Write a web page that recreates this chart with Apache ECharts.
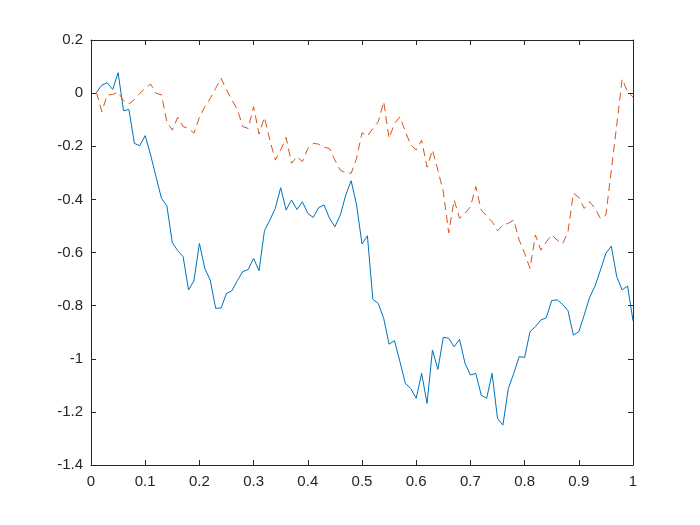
<!DOCTYPE html>
<html>
<head>
<meta charset="utf-8">
<script src="https://cdn.jsdelivr.net/npm/echarts@6/dist/echarts.min.js"></script>
<style>
html,body{margin:0;padding:0;background:#fff;}
#chart{width:700px;height:525px;}
</style>
</head>
<body>
<div id="chart"></div>
<script>
// sample positions: 0.01 .. 1.00 in steps of 0.01
var xStep = 0.01;
var blueValues = [
  0.003, 0.030, 0.039, 0.014, 0.077, -0.066, -0.062, -0.189, -0.198, -0.160,
  -0.233, -0.315, -0.396, -0.424, -0.563, -0.593, -0.616, -0.741, -0.706, -0.566,
  -0.660, -0.704, -0.810, -0.809, -0.754, -0.744, -0.706, -0.672, -0.664, -0.622,
  -0.669, -0.518, -0.478, -0.434, -0.356, -0.440, -0.402, -0.438, -0.409, -0.453,
  -0.468, -0.431, -0.421, -0.471, -0.503, -0.459, -0.384, -0.330, -0.421, -0.568,
  -0.537, -0.776, -0.792, -0.848, -0.945, -0.932, -1.011, -1.093, -1.112, -1.149,
  -1.055, -1.168, -0.967, -1.040, -0.919, -0.923, -0.955, -0.927, -1.017, -1.061,
  -1.055, -1.137, -1.149, -1.055, -1.225, -1.250, -1.112, -1.055, -0.992, -0.995,
  -0.898, -0.879, -0.854, -0.846, -0.781, -0.778, -0.795, -0.819, -0.911, -0.898,
  -0.835, -0.769, -0.726, -0.666, -0.603, -0.576, -0.691, -0.741, -0.726, -0.857
];
var orangeValues = [
  0.003, -0.070, -0.007, -0.005, 0.003, -0.028, -0.041, -0.024, -0.001, 0.018,
  0.034, -0.001, -0.006, -0.108, -0.139, -0.091, -0.126, -0.133, -0.151, -0.091,
  -0.051, -0.020, 0.018, 0.056, 0.012, -0.026, -0.061, -0.126, -0.133, -0.051,
  -0.154, -0.091, -0.177, -0.252, -0.214, -0.167, -0.264, -0.239, -0.258, -0.208,
  -0.189, -0.192, -0.204, -0.208, -0.252, -0.290, -0.300, -0.302, -0.245, -0.149,
  -0.162, -0.133, -0.108, -0.032, -0.170, -0.114, -0.089, -0.145, -0.195, -0.214,
  -0.177, -0.279, -0.214, -0.290, -0.371, -0.526, -0.402, -0.471, -0.453, -0.428,
  -0.352, -0.440, -0.463, -0.484, -0.518, -0.497, -0.490, -0.478, -0.553, -0.603,
  -0.660, -0.534, -0.591, -0.560, -0.534, -0.553, -0.568, -0.522, -0.377, -0.392,
  -0.434, -0.409, -0.434, -0.472, -0.459, -0.290, -0.120, 0.053, 0.005, -0.015
];
var xTickLabels = ['0','0.1','0.2','0.3','0.4','0.5','0.6','0.7','0.8','0.9','1'];
var yTickLabels = ['-1.4','-1.2','-1','-0.8','-0.6','-0.4','-0.2','0','0.2'];

function pairs(vals){
  var out = [];
  for (var i = 0; i < vals.length; i++) out.push([Math.round((i + 1) * xStep * 100) / 100, vals[i]]);
  return out;
}
function fmtX(v){ var i = Math.round(v * 10); return xTickLabels[i] !== undefined ? xTickLabels[i] : ''; }
function fmtY(v){ var i = Math.round((v + 1.4) / 0.2); return yTickLabels[i] !== undefined ? yTickLabels[i] : ''; }

var axisColor = '#262626';
var labelStyle = {color: axisColor, fontFamily: 'Liberation Sans, Arial, sans-serif', fontSize: 15};

var chart = echarts.init(document.getElementById('chart'), null, {renderer: 'canvas'});
chart.setOption({
  animation: false,
  backgroundColor: '#ffffff',
  grid: {left: 91, right: 67, top: 40, bottom: 60, containLabel: false},
  xAxis: [
    {type: 'value', min: 0, max: 1, interval: 0.1, position: 'bottom',
     axisLine: {onZero: false, lineStyle: {color: axisColor, width: 1}},
     axisTick: {inside: true, length: 5, lineStyle: {color: axisColor}},
     axisLabel: Object.assign({margin: 9, formatter: fmtX}, labelStyle),
     splitLine: {show: false}},
    {type: 'value', min: 0, max: 1, interval: 0.1, position: 'top',
     axisLine: {onZero: false, lineStyle: {color: axisColor, width: 1}},
     axisTick: {inside: true, length: 5, lineStyle: {color: axisColor}},
     axisLabel: {show: false}, splitLine: {show: false}}
  ],
  yAxis: [
    {type: 'value', min: -1.4, max: 0.2, interval: 0.2, position: 'left',
     axisLine: {show: true, onZero: false, lineStyle: {color: axisColor, width: 1}},
     axisTick: {show: true, inside: true, length: 5, lineStyle: {color: axisColor}},
     axisLabel: Object.assign({margin: 8, formatter: fmtY}, labelStyle),
     splitLine: {show: false}},
    {type: 'value', min: -1.4, max: 0.2, interval: 0.2, position: 'right',
     axisLine: {show: true, onZero: false, lineStyle: {color: axisColor, width: 1}},
     axisTick: {show: true, inside: true, length: 5, lineStyle: {color: axisColor}},
     axisLabel: {show: false}, splitLine: {show: false}}
  ],
  series: [
    {type: 'line', xAxisIndex: 0, yAxisIndex: 0, data: pairs(blueValues),
     showSymbol: false, symbol: 'none',
     lineStyle: {color: '#0072BD', width: 1}},
    {type: 'line', xAxisIndex: 0, yAxisIndex: 0, data: pairs(orangeValues),
     showSymbol: false, symbol: 'none',
     lineStyle: {color: '#D95319', width: 1, type: [8, 5]}}
  ]
});
</script>
</body>
</html>
